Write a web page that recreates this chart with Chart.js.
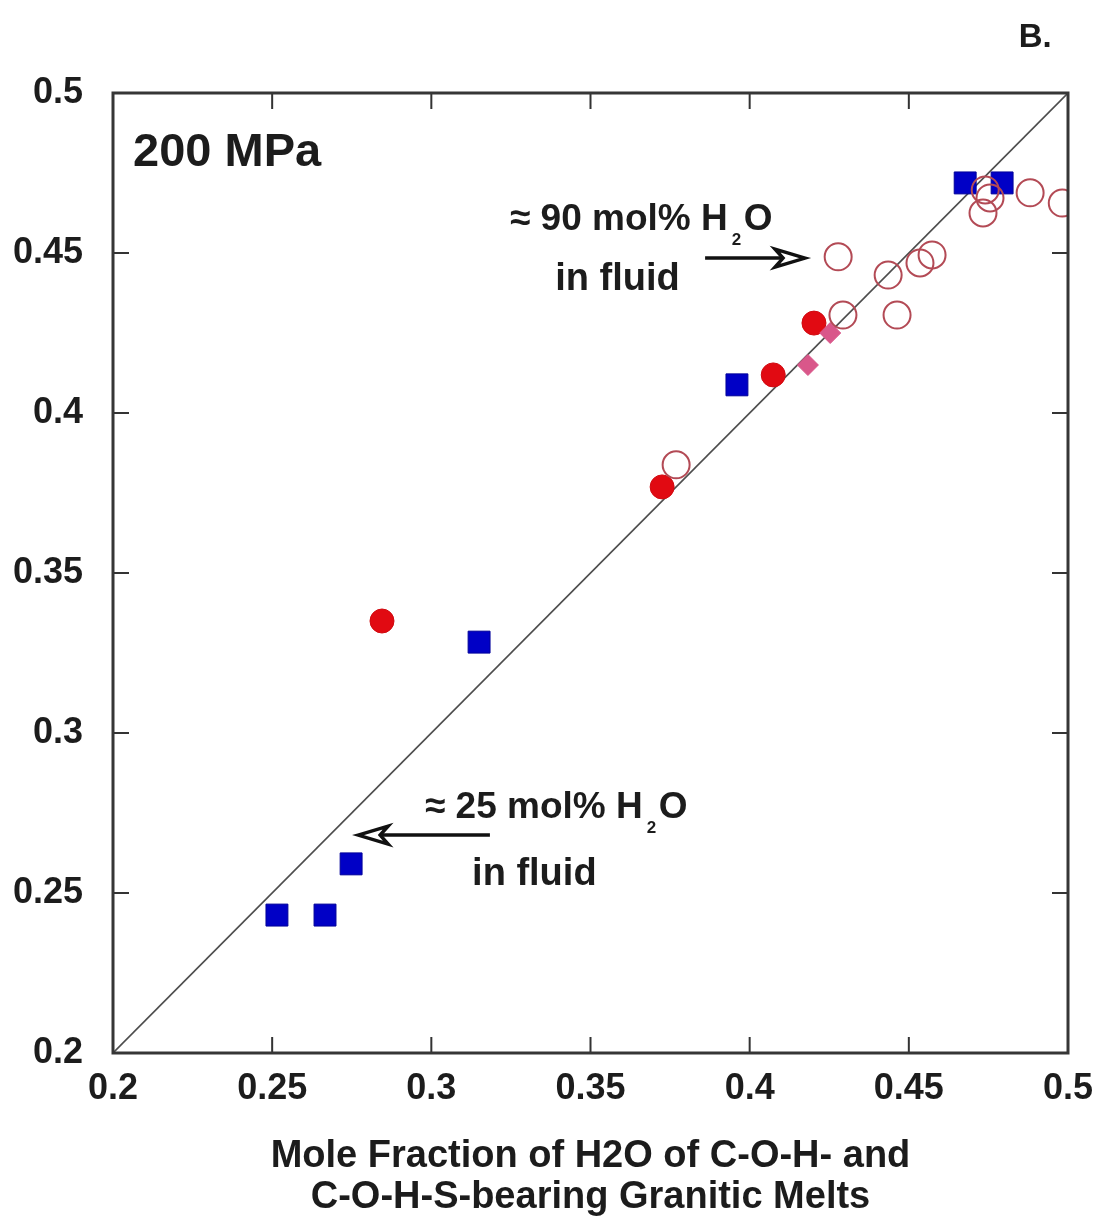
<!DOCTYPE html>
<html>
<head>
<meta charset="utf-8">
<script src="https://cdn.jsdelivr.net/npm/chart.js@4/dist/chart.umd.min.js"></script>
<style>
  html, body { margin: 0; padding: 0; background: #ffffff; }
  canvas { display: block; }
</style>
</head>
<body>
<canvas id="chart" width="1100" height="1218"></canvas>
<script>
// Axis ticks (both axes share the same range)
const tickValues = [0.2, 0.25, 0.3, 0.35, 0.4, 0.45, 0.5];
const tickLabels = ['0.2', '0.25', '0.3', '0.35', '0.4', '0.45', '0.5'];

// Blue squares
const squareX = [0.2515, 0.2666, 0.2748, 0.3150, 0.3960, 0.4677, 0.4793];
const squareY = [0.2431, 0.2431, 0.2591, 0.3284, 0.4088, 0.4719, 0.4719];

// Filled red circles
const dotX = [0.2845, 0.3725, 0.4074, 0.4202];
const dotY = [0.3350, 0.3769, 0.4119, 0.4281];

// Pink diamonds
const diamondX = [0.4183, 0.4253];
const diamondY = [0.4150, 0.4250];

// Open circles
const ringX = [0.3769, 0.4293, 0.4278, 0.4435, 0.4463, 0.4535, 0.4573, 0.4740, 0.4755, 0.4733, 0.4881, 0.4982];
const ringY = [0.3838, 0.4306, 0.4488, 0.4431, 0.4306, 0.4469, 0.4494, 0.4697, 0.4672, 0.4625, 0.4688, 0.4656];

// 1:1 reference line
const lineX = [0.2, 0.5];
const lineY = [0.2, 0.5];

const xTitle = ['Mole Fraction of H2O of C-O-H- and', 'C-O-H-S-bearing Granitic Melts'];

const pts = (xs, ys) => xs.map((x, i) => ({ x: x, y: ys[i] }));

const FONT = '"Liberation Sans", Arial, Helvetica, sans-serif';
const INK = '#1c1c1c';

// Plot frame with inward tick marks on all four sides
const framePlugin = {
  id: 'frame',
  afterDatasetsDraw(chart) {
    const { ctx, chartArea: a, scales } = chart;
    ctx.save();
    ctx.strokeStyle = '#333333';
    ctx.lineWidth = 2;
    const len = 16;
    scales.x.ticks.forEach(t => {
      if (t.value <= 0.2 || t.value >= 0.5) return;
      const px = scales.x.getPixelForValue(t.value);
      ctx.beginPath();
      ctx.moveTo(px, a.bottom); ctx.lineTo(px, a.bottom - len);
      ctx.moveTo(px, a.top); ctx.lineTo(px, a.top + len);
      ctx.stroke();
    });
    scales.y.ticks.forEach(t => {
      if (t.value <= 0.2 || t.value >= 0.5) return;
      const py = scales.y.getPixelForValue(t.value);
      ctx.beginPath();
      ctx.moveTo(a.left, py); ctx.lineTo(a.left + len, py);
      ctx.moveTo(a.right, py); ctx.lineTo(a.right - len, py);
      ctx.stroke();
    });
    ctx.lineWidth = 3;
    ctx.strokeStyle = '#363636';
    ctx.strokeRect(a.left, a.top, a.right - a.left, a.bottom - a.top);
    ctx.restore();
  }
};

// Text labels and arrows, placed in data units
const notes = [
  { text: 'B.', x: 0.4845, y: 0.5144, size: 33 },
  { text: '200 MPa', x: 0.2063, y: 0.4772, size: 47 },
  { text: 'in fluid', x: 0.3389, y: 0.4384, size: 38 },
  { text: 'in fluid', x: 0.3128, y: 0.2525, size: 38 }
];
const waterNotes = [
  { pre: '\u2248 90 mol% H', x: 0.3247, y: 0.4572 },
  { pre: '\u2248 25 mol% H', x: 0.2980, y: 0.2734 }
];
const arrows = [
  { x0: 0.3860, x1: 0.4174, y: 0.4484 },
  { x0: 0.3184, x1: 0.2770, y: 0.2681 }
];

const notesPlugin = {
  id: 'notes',
  afterDraw(chart) {
    const { ctx, scales } = chart;
    const X = v => scales.x.getPixelForValue(v);
    const Y = v => scales.y.getPixelForValue(v);
    ctx.save();
    ctx.fillStyle = INK;
    ctx.textBaseline = 'alphabetic';
    ctx.textAlign = 'left';
    notes.forEach(n => {
      ctx.font = 'bold ' + n.size + 'px ' + FONT;
      ctx.fillText(n.text, X(n.x), Y(n.y));
    });
    waterNotes.forEach(n => {
      const x = X(n.x), y = Y(n.y);
      ctx.font = 'bold 37px ' + FONT;
      ctx.fillText(n.pre, x, y);
      const w = ctx.measureText(n.pre).width;
      ctx.font = 'bold 17px ' + FONT;
      ctx.fillText('2', x + w + 4, y + 15);
      ctx.font = 'bold 37px ' + FONT;
      ctx.fillText('O', x + w + 16, y);
    });
    ctx.strokeStyle = '#111111';
    ctx.lineWidth = 3.5;
    ctx.lineJoin = 'miter';
    arrows.forEach(r => {
      const x0 = X(r.x0), x1 = X(r.x1), y = Y(r.y);
      const dir = Math.sign(x1 - x0);
      const headLen = 30, half = 9;
      const base = x1 - dir * headLen;
      ctx.beginPath();
      ctx.moveTo(x0, y); ctx.lineTo(base + dir * 8, y);
      ctx.stroke();
      ctx.beginPath();
      ctx.moveTo(x1, y);
      ctx.lineTo(base, y - half);
      ctx.lineTo(base + dir * 8, y);
      ctx.lineTo(base, y + half);
      ctx.closePath();
      ctx.stroke();
    });
    ctx.restore();
  }
};

const tickFont = { family: FONT, size: 36, weight: 'bold' };

new Chart(document.getElementById('chart'), {
  type: 'scatter',
  data: {
    datasets: [
      {
        type: 'line',
        data: pts(lineX, lineY),
        borderColor: '#4d4d4d',
        borderWidth: 1.6,
        pointRadius: 0,
        fill: false,
        order: 10
      },
      {
        data: pts(squareX, squareY),
        pointStyle: 'rect',
        pointRadius: 15.5,
        backgroundColor: '#0000c6',
        borderColor: '#00009a',
        borderWidth: 1,
        order: 5
      },
      {
        data: pts(dotX, dotY),
        pointStyle: 'circle',
        pointRadius: 12,
        backgroundColor: '#e10a12',
        borderColor: '#d00a10',
        borderWidth: 1,
        order: 4
      },
      {
        data: pts(diamondX, diamondY),
        pointStyle: 'rectRot',
        pointRadius: 10.5,
        backgroundColor: '#d9578a',
        borderColor: '#d9578a',
        borderWidth: 1,
        order: 3
      },
      {
        data: pts(ringX, ringY),
        pointStyle: 'circle',
        pointRadius: 13.5,
        backgroundColor: 'rgba(255,255,255,0)',
        borderColor: '#b34a55',
        borderWidth: 2,
        order: 1
      }
    ]
  },
  options: {
    responsive: false,
    animation: false,
    devicePixelRatio: 1,
    layout: { padding: { top: 93, right: 32, left: 0, bottom: 0 } },
    plugins: { legend: { display: false }, tooltip: { enabled: false } },
    scales: {
      x: {
        type: 'linear',
        min: 0.2,
        max: 0.5,
        afterBuildTicks: s => { s.ticks = tickValues.map(v => ({ value: v })); },
        afterFit: s => { s.height = 165; s.paddingLeft = 0; s.paddingRight = 0; },
        grid: { display: false, drawTicks: false },
        border: { display: false },
        ticks: {
          callback: (v, i) => tickLabels[i],
          font: tickFont,
          color: INK,
          padding: 14,
          maxRotation: 0,
          autoSkip: false
        },
        title: {
          display: true,
          text: xTitle,
          font: { family: FONT, size: 38, weight: 'bold', lineHeight: 1.08 },
          color: INK,
          padding: { top: 0, bottom: 0 }
        }
      },
      y: {
        type: 'linear',
        min: 0.2,
        max: 0.5,
        afterBuildTicks: s => { s.ticks = tickValues.map(v => ({ value: v })); },
        afterFit: s => { s.width = 113; s.paddingTop = 0; s.paddingBottom = 0; },
        grid: { display: false, drawTicks: false },
        border: { display: false },
        ticks: {
          callback: (v, i) => tickLabels[i],
          font: tickFont,
          color: INK,
          padding: 30,
          autoSkip: false
        }
      }
    }
  },
  plugins: [framePlugin, notesPlugin]
});
</script>
</body>
</html>
